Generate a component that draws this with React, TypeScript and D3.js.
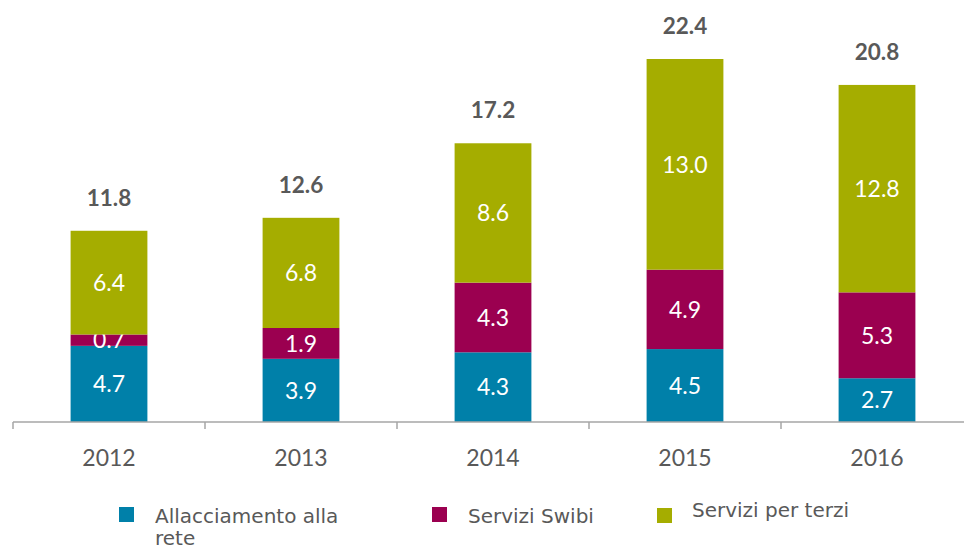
import React from "react";
import * as d3 from "d3";

const years = ["2012", "2013", "2014", "2015", "2016"];
const allacciamento = [4.7, 3.9, 4.3, 4.5, 2.7];
const swibi = [0.7, 1.9, 4.3, 4.9, 5.3];
const terzi = [6.4, 6.8, 8.6, 13.0, 12.8];
const totals = [11.8, 12.6, 17.2, 22.4, 20.8];
const seriesNames = ["Allacciamento alla rete", "Servizi Swibi", "Servizi per terzi"];
const colors = ["#0080A9", "#9B0050", "#A5AD00"];

const W = 964, H = 552;
const baseY = 422;

export default function App() {
  const x = d3.scaleBand().domain(years).range([13, 973]).paddingInner(0.6).paddingOuter(0.3);
  const y = d3.scaleLinear().domain([0, 22.4]).range([baseY, 59]);
  const rows = years.map((yr, i) => ({ year: yr, a: allacciamento[i], s: swibi[i], t: terzi[i] }));
  const stack = d3.stack<any>().keys(["a", "s", "t"])(rows);
  const step = x.step();
  const ticks = d3.range(years.length + 1).map((i) => 13 + i * step);
  const num = "Lato, 'Open Sans', sans-serif";
  const leg = "'DejaVu Sans', Verdana, sans-serif";
  const legend = [
    { x: 119, y: 507, tx: 155, ty: 523, lines: ["Allacciamento alla", "rete"] },
    { x: 432, y: 507, tx: 468, ty: 523, lines: ["Servizi Swibi"] },
    { x: 657, y: 508, tx: 692, ty: 517, lines: ["Servizi per terzi"] },
  ];
  return (
    <svg width={W} height={H} style={{ position: "absolute", left: 0, top: 0, background: "#fff" }}>
      {stack.map((layer, li) => (
        <g key={li}>
          {layer.map((d, i) => {
            const x0 = x(years[i])!;
            const y0 = y(d[1]);
            const h = y(d[0]) - y(d[1]);
            const val = (d[1] - d[0]).toFixed(1);
            return (
              <g key={i}>
                <rect x={x0} y={y0} width={x.bandwidth()} height={h} fill={colors[li]} />
                <text x={x0 + x.bandwidth() / 2} y={y0 + h / 2} dy="0.36em" textAnchor="middle"
                  fill="#fff" fontFamily={num} fontSize={23}>{val}</text>
              </g>
            );
          })}
        </g>
      ))}
      {totals.map((t, i) => (
        <text key={i} x={x(years[i])! + x.bandwidth() / 2} y={y(t) - 25} textAnchor="middle"
          fill="#595959" fontFamily={num} fontWeight="bold" fontSize={22.5}>{t.toFixed(1)}</text>
      ))}
      <line x1={13} x2={W} y1={baseY} y2={baseY} stroke="#a6a6a6" strokeWidth={1.5} />
      {ticks.map((t, i) => (
        <line key={i} x1={t} x2={t} y1={baseY} y2={baseY + 7} stroke="#a6a6a6" strokeWidth={1.5} />
      ))}
      {years.map((yr) => (
        <text key={yr} x={x(yr)! + x.bandwidth() / 2} y={466} textAnchor="middle" fill="#595959"
          fontFamily={num} fontSize={23}>{yr}</text>
      ))}
      {legend.map((l, i) => (
        <g key={i}>
          <rect x={l.x} y={l.y} width={15} height={15} fill={colors[i]} />
          {l.lines.map((ln, j) => (
            <text key={j} x={l.tx} y={l.ty + j * 22} fill="#595959" fontFamily={leg} fontSize={20}>{ln}</text>
          ))}
        </g>
      ))}
      <title>{seriesNames.join(", ")}</title>
    </svg>
  );
}
